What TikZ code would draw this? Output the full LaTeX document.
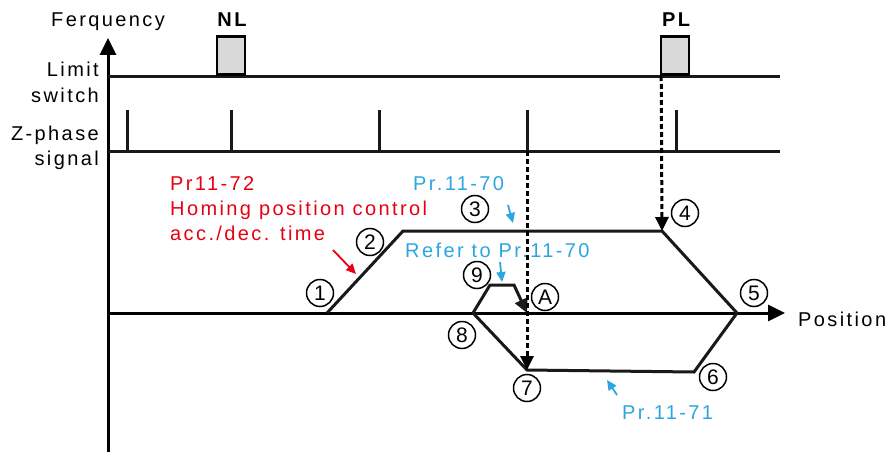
\documentclass[tikz,border=0pt]{standalone}
\usepackage{fontspec}
\setmainfont{Liberation Sans}[LetterSpace=12]
\newfontfamily\numfont{Liberation Sans}
\usetikzlibrary{arrows.meta}

\definecolor{homered}{HTML}{E60012}
\definecolor{homeblue}{HTML}{2CA6E0}

\begin{document}
\begin{tikzpicture}[x=1pt,y=-1pt,
  font=\fontsize{20}{24}\selectfont,
  line/.style={line width=3pt,black!90},
  axis/.style={line width=3pt,-{Triangle[length=17pt,width=16pt]}},
  guide/.style={line width=3pt,dash pattern=on 5pt off 3pt,-{Triangle[length=14pt,width=13pt]}},
  switchbox/.style={draw,line width=2.6pt,fill=black!15},
  num/.style={circle,draw,line width=1.5pt,minimum size=27pt,inner sep=0pt,
              font=\numfont\fontsize{21}{21}\selectfont},
  note/.style={line width=1.8pt,-{Triangle[length=10pt,width=9pt]}},
  lbl/.style={anchor=base west,inner sep=0pt},
]
\useasboundingbox (0,0) rectangle (888,452);

% ---- axes and signal lines ----
\coordinate (origin) at (108,452);
\coordinate (ftop) at (108,38);
\coordinate (lsL) at (108,76);   \coordinate (lsR) at (780,76);
\coordinate (zpL) at (108,151);  \coordinate (zpR) at (780,151);
\coordinate (posL) at (108,313); \coordinate (posR) at (785,313);

\draw[axis] (origin) -- (ftop);
\draw[axis] (posL) -- (posR);
\draw[line] (lsL) -- (lsR);
\draw[line] (zpL) -- (zpR);

% ---- limit switches ----
\node[switchbox,minimum width=28pt,minimum height=38pt,anchor=south,inner sep=0pt] (nl) at (231,76) {};
\node[switchbox,minimum width=28pt,minimum height=38pt,anchor=south,inner sep=0pt] (pl) at (675,76) {};
\node[font=\bfseries\fontsize{20}{24}\selectfont,anchor=base] (nltext) at (232,27) {NL};
\node[font=\bfseries\fontsize{20}{24}\selectfont,anchor=base] (pltext) at (676,27) {PL};

% ---- Z-phase pulses ----
\foreach \px/\pn in {127/a,231/b,379/c,527/d,676/e}{
  \coordinate (z\pn) at (\px,151);
  \draw[line] (z\pn) -- ++(0,-41);
}

% ---- labels on the left ----
\node[lbl] (freq) at (51,27) {Ferquency};
\node[anchor=base east,inner sep=0pt] (limit) at (99,77) {Limit};
\node[anchor=base east,inner sep=0pt] (switch) at (99,102) {switch};
\node[anchor=base east,inner sep=0pt] (zphase) at (99,140) {Z-phase};
\node[anchor=base east,inner sep=0pt] (signal) at (99,165) {signal};
\node[lbl] (position) at (798,326) {Position};

% ---- homing profile ----
\coordinate (p1) at (327,313);
\coordinate (p2) at (403,231);
\coordinate (p4) at (662,231);
\coordinate (p5) at (737,313);
\coordinate (p6) at (694,372);
\coordinate (p7) at (527,370);
\coordinate (p8) at (473,313);
\coordinate (p9a) at (490,285);
\coordinate (p9b) at (514,285);
\coordinate (pA) at (527,313);

\draw[line,line join=miter] (p1) -- (p2) -- (p4) -- (p5) -- (p6) -- (p7) -- (p8);
\draw[line,line join=miter,-{Triangle[length=14pt,width=13pt]}] (p8) -- (p9a) -- (p9b) -- (pA);

\draw[guide] (pl.south west) ++(1.5,0) coordinate (plfoot) -- (p4);
\draw[guide] (zd) -- (p7);

% ---- circled step numbers ----
\node[num] (n1) at (320,293) {1};
\node[num] (n2) at (370,242) {2};
\node[num] (n3) at (475,209) {3};
\node[num] (n4) at (685,213) {4};
\node[num] (n5) at (754,293) {5};
\node[num] (n6) at (713,377) {6};
\node[num] (n7) at (527,388) {7};
\node[num] (n8) at (462,335) {8};
\node[num] (n9) at (477,275) {9};
\node[num] (nA) at (545,297) {A};

% ---- parameter notes ----
\node[lbl,text=homered] (pr72) at (170,190) {Pr11-72};
\node[lbl,text=homered] (homing) at (170,215) {Homing position control};
\node[lbl,text=homered] (accdec) at (170,240) {acc./dec. time};
\coordinate (redtail) at (333,250);
\coordinate (redhead) at (356,274);
\draw[note,homered] (redtail) -- (redhead);

\node[lbl,text=homeblue] (pr70) at (413,190) {Pr.11-70};
\node[lbl,text=homeblue] (refer) at (405,257) {Refer to Pr.11-70};
\node[lbl,text=homeblue] (pr71) at (622,419) {Pr.11-71};
\coordinate (b1t) at (508,205); \coordinate (b1h) at (513,223);
\coordinate (b2t) at (500,262); \coordinate (b2h) at (502,282);
\coordinate (b3t) at (617,395); \coordinate (b3h) at (607,380);
\draw[note,homeblue] (b1t) -- (b1h);
\draw[note,homeblue] (b2t) -- (b2h);
\draw[note,homeblue] (b3t) -- (b3h);
\end{tikzpicture}
\end{document}
